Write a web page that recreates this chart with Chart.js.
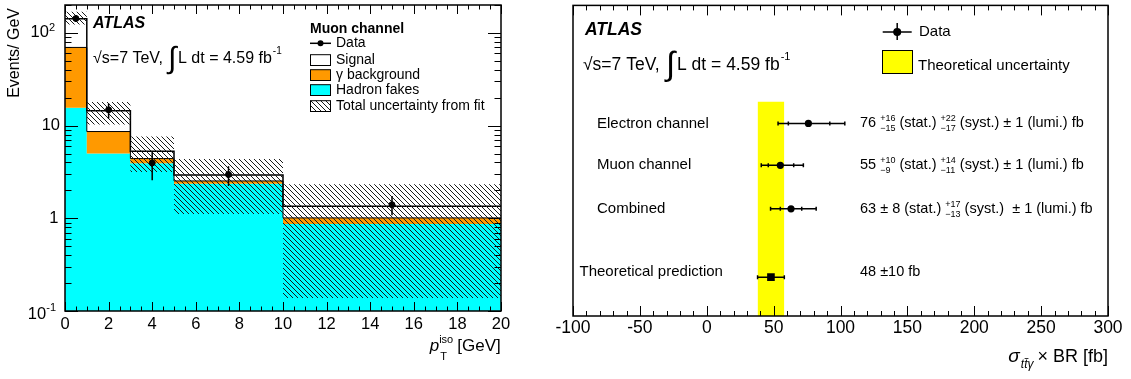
<!DOCTYPE html>
<html>
<head>
<meta charset="utf-8">
<script src="https://cdn.jsdelivr.net/npm/chart.js@4.4.1/dist/chart.umd.min.js"></script>
<style>
  html, body { margin: 0; padding: 0; background: #fff; }
  #wrap { position: relative; width: 1131px; height: 379px; overflow: hidden; }
  #left { position: absolute; left: 0; top: 0; }
  #right { position: absolute; left: 540px; top: 0; }
</style>
</head>
<body>
<div id="wrap">
  <canvas id="left" width="540" height="379"></canvas>
  <canvas id="right" width="591" height="379"></canvas>
</div>
<script>
var FONT = '"Liberation Sans", Arial, Helvetica, sans-serif';

// left panel: muon channel, p_T^iso template fit (Events / GeV)
var binEdges = [0, 1, 3, 5, 10, 20];
var hadronFakes = [15.6, 5.0, 3.93, 2.36, 0.87];
var gammaBkg = [54.1, 3.63, 0.48, 0.17, 0.14];
var signal = [72.3, 5.87, 0.87, 0.40, 0.34];
var uncUp = [169, 18.0, 7.64, 4.37, 2.33];
var uncDown = [123, 10.3, 3.15, 1.11, 0.138];
var dataX = [0.5, 2, 4, 7.5, 15];
var dataY = [143, 14.8, 3.96, 2.97, 1.40];
var dataLo = [131, 11.9, 2.57, 2.23, 1.08];
var dataHi = [155, 17.3, 5.28, 3.65, 1.74];
var leftXTicks = [0, 2, 4, 6, 8, 10, 12, 14, 16, 18, 20];

// right panel: cross section summary
var channels = ['Electron channel', 'Muon channel', 'Combined', 'Theoretical prediction'];
var xsec = [76, 55, 63, 48];
var statUp = [16, 10, 8];
var statDn = [15, 9, 8];
var systUp = [22, 14, 17];
var systDn = [17, 11, 13];
var theoryErr = 10;
var rowPos = [6.2, 4.85, 3.45, 1.25];
var labelPos = [6.2, 4.85, 3.45, 1.42];
var rightXTicks = [-100, -50, 0, 50, 100, 150, 200, 250, 300];

function stepPoints(vals) {
  return binEdges.map(function (e, i) {
    return { x: e, y: vals[Math.min(i, vals.length - 1)] };
  });
}
function addArr(a, b) { return a.map(function (v, i) { return v + b[i]; }); }

var cyanTop = hadronFakes;
var orangeTop = addArr(hadronFakes, gammaBkg);
var totalTop = addArr(orangeTop, signal);

function hatchPattern(ctx) {
  var s = 5;
  var c = document.createElement('canvas');
  c.width = s; c.height = s;
  var g = c.getContext('2d');
  g.strokeStyle = '#1a1a1a';
  g.lineWidth = 1;
  g.beginPath();
  [-s, 0, s].forEach(function (k) { g.moveTo(k, 0); g.lineTo(k + s, s); });
  g.stroke();
  return ctx.createPattern(c, 'repeat');
}

function text(ctx, s, x, y, font, align, base) {
  ctx.font = font;
  ctx.textAlign = align || 'left';
  ctx.textBaseline = base || 'alphabetic';
  ctx.fillStyle = '#000';
  ctx.fillText(s, x, y);
  return ctx.measureText(s).width;
}

// "sqrt(s)=7 TeV, int L dt = 4.59 fb^-1"
function lumiLine(ctx, x, y, size, xInt, xL) {
  text(ctx, '\u221As=7 TeV,', x, y, size + 'px ' + FONT);
  text(ctx, '\u222B', xInt, y + size * 0.3, (size * 1.9) + 'px ' + FONT);
  var w = text(ctx, 'L dt = 4.59 fb', xL, y, size + 'px ' + FONT);
  text(ctx, '-1', xL + w + 1, y - size * 0.55, Math.round(size * 0.65) + 'px ' + FONT);
}

function richLine(ctx, x, y, parts, size) {
  var cx = x, small = Math.round(size * 0.62);
  ctx.fillStyle = '#000';
  ctx.textAlign = 'left';
  ctx.textBaseline = 'middle';
  parts.forEach(function (p) {
    if (typeof p === 'string') {
      ctx.font = size + 'px ' + FONT;
      ctx.fillText(p, cx, y);
      cx += ctx.measureText(p).width;
    } else {
      ctx.font = small + 'px ' + FONT;
      ctx.fillText(p[0], cx, y - size * 0.33);
      ctx.fillText(p[1], cx, y + size * 0.38);
      cx += Math.max(ctx.measureText(p[0]).width, ctx.measureText(p[1]).width);
    }
  });
}

var leftDecor = {
  id: 'leftDecor',
  afterDatasetsDraw: function (chart) {
    var ctx = chart.ctx, xs = chart.scales.x, ys = chart.scales.y;
    ctx.save();
    ctx.strokeStyle = '#000';
    ctx.lineWidth = 1.5;
    for (var i = 0; i < dataX.length; i++) {
      var px = xs.getPixelForValue(dataX[i]);
      ctx.beginPath();
      ctx.moveTo(px, ys.getPixelForValue(dataLo[i]));
      ctx.lineTo(px, ys.getPixelForValue(dataHi[i]));
      ctx.stroke();
    }
    ctx.restore();
  },
  afterDraw: function (chart) {
    var ctx = chart.ctx, a = chart.chartArea, xs = chart.scales.x, ys = chart.scales.y;
    ctx.save();
    ctx.strokeStyle = '#000';
    ctx.lineWidth = 1.5;
    ctx.strokeRect(a.left, a.top, a.right - a.left, a.bottom - a.top);
    ctx.lineWidth = 1;
    ctx.beginPath();
    for (var k = 0; k <= 40; k++) {
      var px = Math.round(xs.getPixelForValue(k / 2)) + 0.5;
      var len = k % 4 === 0 ? 9 : 4.5;
      ctx.moveTo(px, a.bottom); ctx.lineTo(px, a.bottom - len);
      ctx.moveTo(px, a.top); ctx.lineTo(px, a.top + len);
    }
    for (var d = -1; d <= 2; d++) {
      for (var m = 1; m <= 9; m++) {
        var v = m * Math.pow(10, d);
        if (v > 200) continue;
        var py = Math.round(ys.getPixelForValue(v)) + 0.5;
        var l2 = m === 1 ? 13 : 6.5;
        ctx.moveTo(a.left, py); ctx.lineTo(a.left + l2, py);
        ctx.moveTo(a.right, py); ctx.lineTo(a.right - l2, py);
      }
    }
    ctx.stroke();

    // tick labels
    leftXTicks.forEach(function (t) {
      text(ctx, String(t), xs.getPixelForValue(t), 329, '16.5px ' + FONT, 'center');
    });
    var yl = ys.getPixelForValue(100);
    var w = text(ctx, '2', 55, yl - 5, '11px ' + FONT, 'right', 'middle');
    text(ctx, '10', 55 - w, yl, '16.5px ' + FONT, 'right', 'middle');
    text(ctx, '10', 60, ys.getPixelForValue(10), '16.5px ' + FONT, 'right', 'middle');
    text(ctx, '1', 58.5, ys.getPixelForValue(1), '16.5px ' + FONT, 'right', 'middle');
    yl = ys.getPixelForValue(0.1);
    w = text(ctx, '-1', 56, yl - 3, '11px ' + FONT, 'right', 'middle');
    text(ctx, '10', 56 - w, yl + 3, '16.5px ' + FONT, 'right', 'middle');

    // axis titles
    ctx.save();
    ctx.translate(19, 8);
    ctx.rotate(-Math.PI / 2);
    text(ctx, 'Events/ GeV', 0, 0, '16px ' + FONT, 'right');
    ctx.restore();
    var gw = text(ctx, '[GeV]', 500.7, 351, '17px ' + FONT, 'right');
    var px0 = 500.7 - gw - 4;
    text(ctx, 'iso', px0, 343, '11px ' + FONT, 'right');
    text(ctx, 'T', px0 - 13, 360, '11px ' + FONT, 'left');
    text(ctx, 'p', px0 - 14, 351, 'italic 17px ' + FONT, 'right');

    // labels
    text(ctx, 'ATLAS', 93, 28, 'italic bold 16px ' + FONT);
    lumiLine(ctx, 93, 63, 16, 168, 178);

    // legend
    text(ctx, 'Muon channel', 310, 32.5, 'bold 14px ' + FONT);
    ctx.lineWidth = 1.5;
    ctx.beginPath(); ctx.moveTo(310, 43.3); ctx.lineTo(331, 43.3); ctx.stroke();
    ctx.beginPath(); ctx.arc(320.5, 43.3, 3, 0, Math.PI * 2); ctx.fillStyle = '#000'; ctx.fill();
    var boxes = [
      { y: 54.7, fill: '#ffffff' },
      { y: 69.7, fill: '#ff9900' },
      { y: 84.7, fill: '#00ffff' },
      { y: 100.7, fill: hatchPattern(ctx) }
    ];
    ctx.lineWidth = 1;
    boxes.forEach(function (b) {
      ctx.fillStyle = b.fill;
      ctx.fillRect(310.5, b.y, 20, 10.8);
      ctx.strokeStyle = '#000';
      ctx.strokeRect(310.5, b.y, 20, 10.8);
    });
    var names = ['Data', 'Signal', '\u03B3 background', 'Hadron fakes', 'Total uncertainty from fit'];
    var ny = [43.3, 59.8, 75, 90, 106.3];
    names.forEach(function (n, i) { text(ctx, n, 336, ny[i], '14px ' + FONT, 'left', 'middle'); });
    ctx.restore();
  }
};

var lctx = document.getElementById('left').getContext('2d');
var hatch = hatchPattern(lctx);

new Chart(lctx, {
  type: 'line',
  data: {
    datasets: [
      { label: 'Hadron fakes', data: stepPoints(cyanTop), stepped: true, fill: 'start',
        backgroundColor: '#00ffff', borderColor: 'rgba(0,0,0,0)', borderWidth: 1, pointRadius: 0, order: 6 },
      { label: 'gamma background', data: stepPoints(orangeTop), stepped: true, fill: '-1',
        backgroundColor: '#ff9900', borderColor: '#000', borderWidth: 1, pointRadius: 0, order: 5 },
      { label: 'Signal', data: stepPoints(totalTop), stepped: true, fill: false,
        borderColor: '#000', borderWidth: 1.5, pointRadius: 0, order: 4 },
      { label: 'unc low', data: stepPoints(uncDown), stepped: true, fill: false,
        borderColor: 'rgba(0,0,0,0)', borderWidth: 1, pointRadius: 0, order: 3 },
      { label: 'Total uncertainty from fit', data: stepPoints(uncUp), stepped: true, fill: '-1',
        backgroundColor: hatch, borderColor: 'rgba(0,0,0,0)', borderWidth: 1, pointRadius: 0, order: 2 },
      { label: 'Data', data: dataX.map(function (x, i) { return { x: x, y: dataY[i] }; }),
        showLine: false, pointRadius: 3, pointBackgroundColor: '#000', pointBorderColor: '#000', order: 1 }
    ]
  },
  options: {
    responsive: false,
    devicePixelRatio: 1,
    animation: false,
    events: [],
    layout: { padding: { left: 65, right: 39, top: 2, bottom: 68 } },
    plugins: { legend: { display: false }, tooltip: { enabled: false } },
    scales: {
      x: { type: 'linear', min: 0, max: 20, display: false },
      y: { type: 'logarithmic', min: 0.1, max: 200, display: false }
    }
  },
  plugins: [leftDecor]
});

var rightDecor = {
  id: 'rightDecor',
  afterDatasetDraw: function (chart, args) {
    if (args.index !== 0) return;
    var ctx = chart.ctx, xs = chart.scales.x, ys = chart.scales.y;
    ctx.save();
    ctx.strokeStyle = '#000';
    ctx.lineWidth = 1.5;
    function cap(x, y, h) {
      ctx.moveTo(x, y - h); ctx.lineTo(x, y + h);
    }
    ctx.beginPath();
    for (var i = 0; i < xsec.length; i++) {
      var py = ys.getPixelForValue(rowPos[i]);
      var lo, hi;
      if (i < statUp.length) {
        var up = Math.sqrt(statUp[i] * statUp[i] + systUp[i] * systUp[i] + 1);
        var dn = Math.sqrt(statDn[i] * statDn[i] + systDn[i] * systDn[i] + 1);
        lo = xsec[i] - dn; hi = xsec[i] + up;
        cap(xs.getPixelForValue(xsec[i] - statDn[i]), py, 2);
        cap(xs.getPixelForValue(xsec[i] + statUp[i]), py, 2);
      } else {
        lo = xsec[i] - theoryErr; hi = xsec[i] + theoryErr;
      }
      ctx.moveTo(xs.getPixelForValue(lo), py);
      ctx.lineTo(xs.getPixelForValue(hi), py);
      cap(xs.getPixelForValue(lo), py, 2);
      cap(xs.getPixelForValue(hi), py, 2);
    }
    ctx.stroke();
    ctx.restore();
  },
  afterDraw: function (chart) {
    var ctx = chart.ctx, a = chart.chartArea, xs = chart.scales.x, ys = chart.scales.y;
    ctx.save();
    ctx.strokeStyle = '#000';
    ctx.lineWidth = 1.5;
    ctx.strokeRect(a.left, a.top, a.right - a.left, a.bottom - a.top);
    ctx.lineWidth = 1;
    ctx.beginPath();
    for (var k = -10; k <= 30; k++) {
      var px = Math.round(xs.getPixelForValue(k * 10)) + 0.5;
      var len = k % 5 === 0 ? 10 : 5;
      ctx.moveTo(px, a.bottom); ctx.lineTo(px, a.bottom - len);
      ctx.moveTo(px, a.top); ctx.lineTo(px, a.top + len);
    }
    ctx.stroke();
    rightXTicks.forEach(function (t) {
      text(ctx, String(t), xs.getPixelForValue(t), 333, '17.5px ' + FONT, 'center');
    });

    // axis title: sigma_{tt~gamma} x BR [fb]
    var bw = text(ctx, '\u00D7 BR [fb]', a.right, 362, '18px ' + FONT, 'right');
    var sx = a.right - bw - 4;
    ctx.font = 'italic 12px ' + FONT;
    var subw = ctx.measureText('tt\u03B3').width;
    text(ctx, 'tt\u03B3', sx - subw, 368, 'italic 12px ' + FONT, 'left');
    var tw = ctx.measureText('t').width;
    ctx.lineWidth = 0.8;
    ctx.beginPath();
    ctx.moveTo(sx - subw + tw + 0.5, 358.5); ctx.lineTo(sx - subw + 2 * tw + 1, 358.5);
    ctx.stroke();
    text(ctx, '\u03C3', sx - subw - 1, 362, 'italic 19px ' + FONT, 'right');

    text(ctx, 'ATLAS', 45, 35, 'italic bold 17.5px ' + FONT);
    lumiLine(ctx, 43, 70, 17.5, 126, 137);

    // legend
    ctx.lineWidth = 1.5;
    ctx.beginPath();
    ctx.moveTo(342.7, 32); ctx.lineTo(371.7, 32);
    ctx.moveTo(357.2, 23); ctx.lineTo(357.2, 40);
    ctx.stroke();
    ctx.beginPath(); ctx.arc(357.2, 32, 4, 0, Math.PI * 2); ctx.fillStyle = '#000'; ctx.fill();
    text(ctx, 'Data', 379, 32, '15px ' + FONT, 'left', 'middle');
    ctx.fillStyle = '#ffff00';
    ctx.fillRect(342.5, 50.5, 30, 23);
    ctx.lineWidth = 1;
    ctx.strokeRect(342.5, 50.5, 30, 23);
    text(ctx, 'Theoretical uncertainty', 378, 66, '15px ' + FONT, 'left', 'middle');

    // row labels and values
    var lx = [57, 57, 57, 39.5];
    channels.forEach(function (c, i) {
      text(ctx, c, lx[i], ys.getPixelForValue(labelPos[i]), '15px ' + FONT, 'left', 'middle');
    });
    var vx = 320;
    var vals = [
      [xsec[0] + ' ', ['+' + statUp[0], '\u2212' + statDn[0]], ' (stat.) ', ['+' + systUp[0], '\u2212' + systDn[0]], ' (syst.) \u00B1 1 (lumi.) fb'],
      [xsec[1] + ' ', ['+' + statUp[1], '\u2212' + statDn[1]], ' (stat.) ', ['+' + systUp[1], '\u2212' + systDn[1]], ' (syst.) \u00B1 1 (lumi.) fb'],
      [xsec[2] + ' \u00B1 ' + statUp[2] + ' (stat.) ', ['+' + systUp[2], '\u2212' + systDn[2]], ' (syst.)  \u00B1 1 (lumi.) fb'],
      [xsec[3] + ' \u00B1' + theoryErr + ' fb']
    ];
    vals.forEach(function (p, i) {
      richLine(ctx, vx, ys.getPixelForValue(labelPos[i]), p, 14.5);
    });
    ctx.restore();
  }
};

var rctx = document.getElementById('right').getContext('2d');
new Chart(rctx, {
  type: 'scatter',
  data: {
    datasets: [
      { type: 'line', label: 'Theoretical uncertainty',
        data: [{ x: xsec[3] - theoryErr, y: 6.9 }, { x: xsec[3] + theoryErr, y: 6.9 }],
        fill: 'start', backgroundColor: '#ffff00', borderColor: 'rgba(0,0,0,0)', borderWidth: 1,
        pointRadius: 0, order: 2 },
      { label: 'Data', data: xsec.map(function (v, i) { return { x: v, y: rowPos[i] }; }),
        pointStyle: ['circle', 'circle', 'circle', 'rect'], pointRadius: [3.6, 3.6, 3.6, 5.4],
        pointBackgroundColor: '#000', pointBorderColor: '#000', pointBorderWidth: 0, order: 1 }
    ]
  },
  options: {
    responsive: false,
    devicePixelRatio: 1,
    animation: false,
    events: [],
    layout: { padding: { left: 33, right: 23, top: 4, bottom: 63 } },
    plugins: { legend: { display: false }, tooltip: { enabled: false } },
    scales: {
      x: { type: 'linear', min: -100, max: 300, display: false },
      y: { type: 'linear', min: 0, max: 10, display: false }
    }
  },
  plugins: [rightDecor]
});
</script>
</body>
</html>
